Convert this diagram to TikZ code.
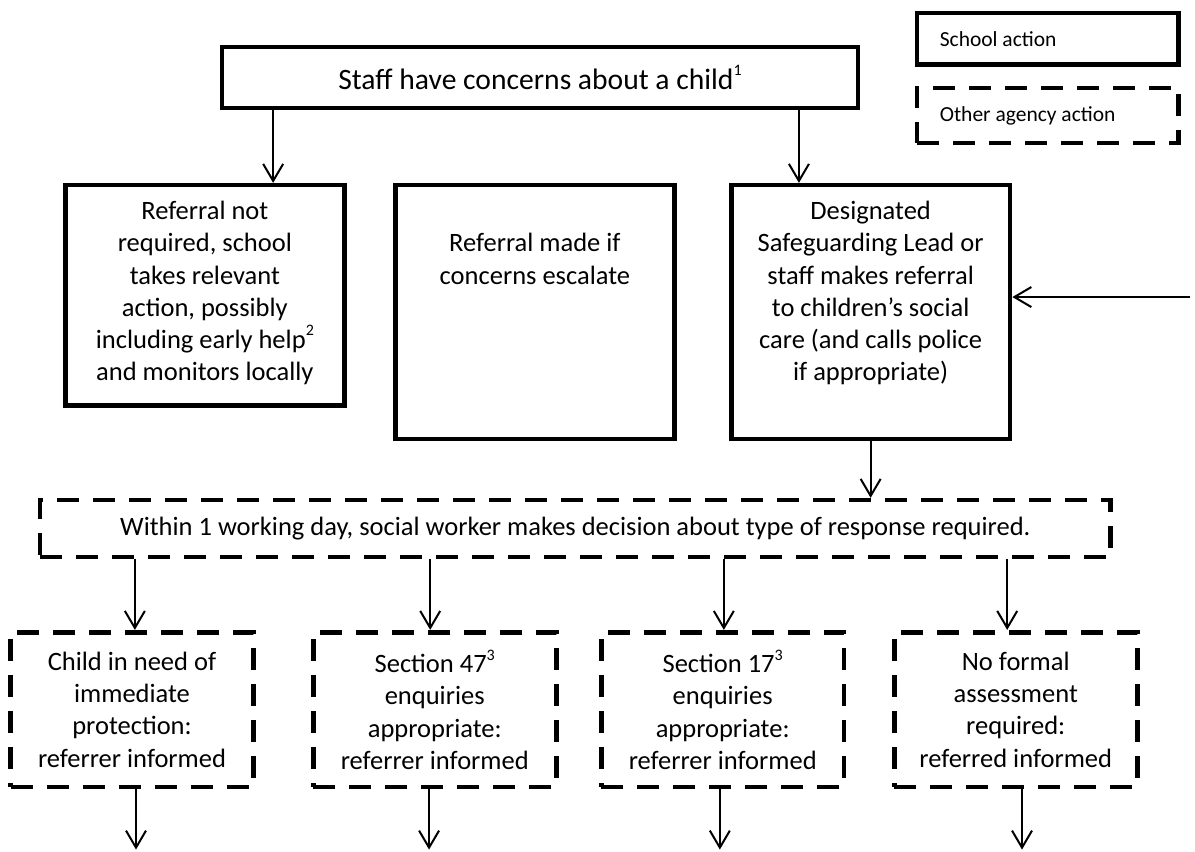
\documentclass[tikz,border=0pt]{standalone}
\usepackage{fontspec}
\setmainfont{Carlito}
\usetikzlibrary{arrows.meta, positioning}

% testo allineato in alto dentro un riquadro di altezza fissa
\newcommand{\testosu}[2]{\parbox[c][#1][t]{4.6cm}{\centering\strut #2}}
% richiamo di nota, piccolo come nell'originale
\newcommand{\apice}[1]{\raisebox{1ex}{\footnotesize #1}}

\begin{document}
\begin{tikzpicture}[
  font=\fontsize{13.25pt}{16.1pt}\selectfont,
  scuola/.style={draw=black, line width=2.3pt, fill=white,
                 inner xsep=0.15cm, inner ysep=0.21cm},
  agenzia/.style={draw=black, line width=2.3pt, dash pattern=on 11pt off 7pt,
                  fill=white, align=flush center, inner ysep=0.15cm},
  legenda/.style={text width=3.79cm, align=flush left, inner xsep=0.4cm,
                  font=\fontsize{10.75pt}{13pt}\selectfont},
  esito/.style={agenzia, text width=3.9cm, inner xsep=0.185cm,
                minimum height=2.72cm},
  freccia/.style={draw=black, line width=1pt,
                  -{Straight Barb[length=8.5pt, width=10pt]}}
]

\useasboundingbox (0,0) rectangle (21.0,14.97);

% ---- legenda ----------------------------------------------------------
\node[scuola, legenda, minimum height=0.91cm] (legscuola) at (18.41,14.29) {School action};
\node[agenzia, legenda, minimum height=0.97cm] (legagenzia) at (18.41,12.94) {Other agency action};

% ---- blocchi: azioni della scuola ---------------------------------------
\node[scuola, minimum width=11.18cm, minimum height=1.07cm,
      font=\fontsize{14.8pt}{17pt}\selectfont] (staff) at (9.49,13.61)
  {Staff have concerns about a child\apice{1}};

\node[scuola, anchor=north] (nonrichiesta) at (3.60,11.756)
  {\testosu{3.45cm}{Referral not\\ required, school\\ takes relevant\\ action, possibly\\
   including early help\apice{2}\\ and monitors locally}};
\node[scuola, anchor=north] (escalation) at (9.40,11.756)
  {\testosu{4.04cm}{\mbox{}\\ Referral made if\\ concerns escalate}};
\node[scuola, anchor=north] (designato) at (15.30,11.756)
  {\testosu{4.04cm}{Designated\\ Safeguarding Lead or\\ staff makes referral\\
   to children’s social\\ care (and calls police\\ if appropriate)}};

% ---- blocchi: azioni di altre agenzie -----------------------------------
\node[agenzia, minimum width=18.82cm, minimum height=1.0cm] (decisione) at (10.11,5.68)
  {Within 1 working day, social worker makes decision about type of response required.};

\node[esito] (protezione) at (2.32,2.50)
  {Child in need of\\ immediate\\ protection:\\ referrer informed};
\node[esito] (sezione47) at (7.64,2.50)
  {Section 47\apice{3}\\ enquiries\\ appropriate:\\ referrer informed};
\node[esito] (sezione17) at (12.70,2.50)
  {Section 17\apice{3}\\ enquiries\\ appropriate:\\ referrer informed};
\node[esito] (nessuna) at (17.85,2.50)
  {No formal\\ assessment\\ required:\\ referred informed};

% ---- collegamenti -------------------------------------------------------
\coordinate (ingresso) at (20.91,9.75);
\coordinate (fondo)    at (0,0.04);

\draw[freccia] (4.80,0 |- staff.south) -- (4.80,0 |- nonrichiesta.north);
\draw[freccia] (14.04,0 |- staff.south) -- (14.04,0 |- designato.north);
\draw[freccia] (ingresso) -- (ingresso -| designato.east);
\draw[freccia] (designato.south) -- (designato.south |- decisione.north);

% dal riquadro della decisione ai quattro esiti, e oltre
\foreach \esito/\xsu/\xgiu in {protezione/2.37/2.39, sezione47/7.56/7.54,
                              sezione17/12.72/12.65, nessuna/17.70/17.96} {
  \draw[freccia] (\xsu,0 |- decisione.south) -- (\xsu,0 |- \esito.north);
  \draw[freccia] (\xgiu,0 |- \esito.south) -- (\xgiu,0 |- fondo);
}

\end{tikzpicture}
\end{document}
